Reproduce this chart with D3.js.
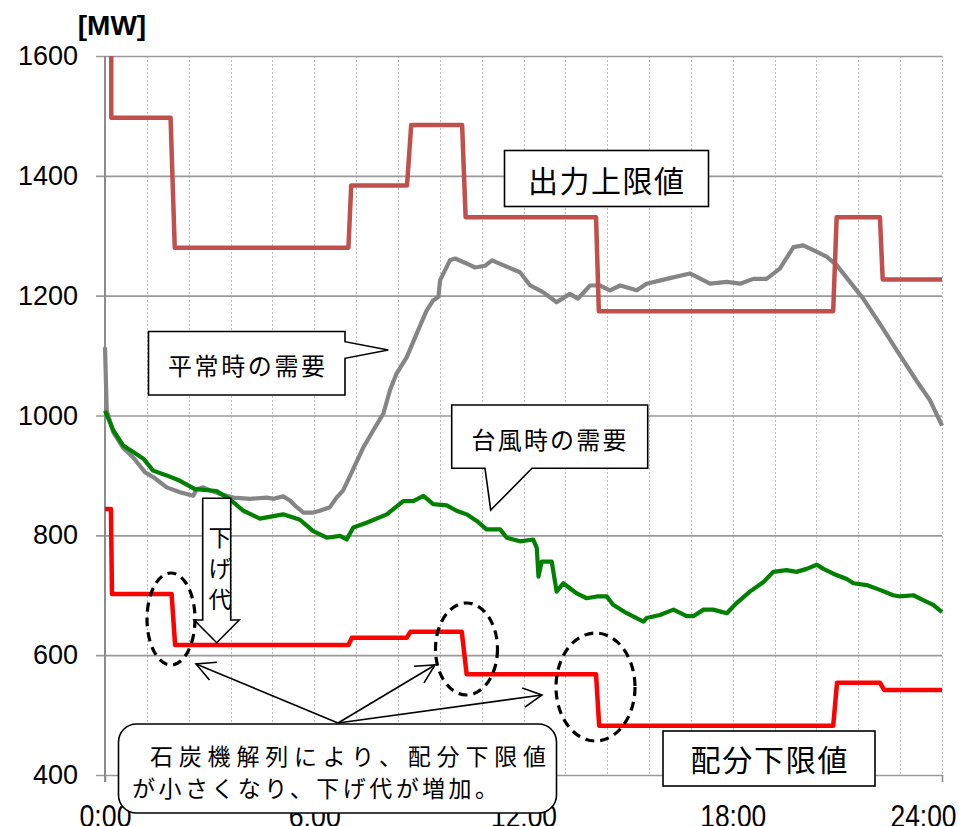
<!DOCTYPE html>
<html><head><meta charset="utf-8">
<script src="https://cdn.jsdelivr.net/npm/d3@7/dist/d3.min.js"></script>
<style>body{margin:0;background:#fff}svg{display:block}</style>
</head><body>
<svg id="c" width="961" height="826"></svg>
<script>
// ---- data ----
const hourTicks = [0, 6, 12, 18, 24];
const hourLabels = ["0:00", "6:00", "12:00", "18:00", "24:00"];
const mwTicks = [400, 600, 800, 1000, 1200, 1400, 1600];

// 出力上限値
const upperTime  = [0.18, 0.18, 1.88, 2.0, 6.98, 7.06, 8.66, 8.78, 10.24, 10.34, 14.08, 14.16, 20.88, 20.98, 22.22, 22.30, 24];
const upperValue = [1600, 1497, 1497, 1280, 1280, 1384, 1384, 1485, 1485, 1331, 1331, 1174, 1174, 1331, 1331, 1227, 1227];

// 配分下限値
const lowerTime  = [0, 0.17, 0.2, 1.91, 2.01, 6.98, 7.08, 8.65, 8.76, 10.23, 10.37, 14.08, 14.17, 20.88, 20.99, 22.22, 22.34, 24];
const lowerValue = [844, 844, 702, 702, 617, 617, 629, 629, 639, 639, 568, 568, 482, 482, 554, 554, 542, 542];

// 平常時の需要
const normalTime = [0, 0.05, 0.24, 0.52, 0.81, 1.15, 1.39, 1.77, 2.15, 2.53, 2.63, 2.82, 3.01, 3.30, 3.68, 4.16, 4.64, 4.83, 5.11, 5.30, 5.50, 5.69, 5.97, 6.16, 6.45, 6.64, 6.83, 7.12, 7.41, 7.69, 7.98, 8.17, 8.36, 8.65, 8.94, 9.22, 9.41, 9.56, 9.61, 9.89, 10.04, 10.32, 10.61, 10.90, 11.10, 11.33, 11.90, 12.19, 12.56, 12.95, 13.33, 13.56, 13.91, 14.19, 14.48, 14.77, 15.25, 15.53, 16.11, 16.77, 17.35, 17.83, 18.21, 18.59, 18.97, 19.35, 19.74, 20.02, 20.31, 20.69, 20.98, 21.36, 21.74, 22.22, 22.70, 23.27, 23.66, 24];
const normalValue = [1114, 1008, 972, 946, 930, 905, 897, 880, 872, 866, 877, 880, 875, 869, 863, 861, 863, 861, 865, 858, 847, 838, 838, 841, 847, 863, 875, 911, 947, 975, 1003, 1042, 1070, 1097, 1137, 1175, 1192, 1198, 1226, 1259, 1262, 1255, 1247, 1250, 1259, 1253, 1239, 1217, 1206, 1189, 1203, 1195, 1217, 1217, 1209, 1217, 1209, 1220, 1228, 1237, 1220, 1223, 1220, 1228, 1228, 1245, 1281, 1284, 1276, 1265, 1251, 1223, 1195, 1153, 1109, 1058, 1025, 983];

// 台風時の需要
const typhoonTime = [0, 0.24, 0.52, 0.81, 1.10, 1.38, 1.77, 2.15, 2.58, 3.20, 3.58, 3.97, 4.44, 4.83, 5.11, 5.59, 5.97, 6.36, 6.74, 6.93, 7.12, 7.50, 8.08, 8.55, 8.84, 9.13, 9.41, 9.80, 10.08, 10.37, 10.66, 10.94, 11.33, 11.52, 11.90, 12.28, 12.38, 12.43, 12.52, 12.81, 12.95, 13.14, 13.53, 13.81, 14.10, 14.39, 14.57, 14.96, 15.44, 15.53, 15.91, 16.30, 16.68, 16.87, 17.16, 17.44, 17.83, 18.11, 18.49, 18.88, 19.16, 19.54, 19.83, 20.12, 20.41, 20.60, 20.88, 21.27, 21.46, 21.84, 22.22, 22.60, 22.80, 23.18, 23.46, 23.75, 24];
const typhoonValue = [1008, 975, 950, 939, 928, 908, 900, 891, 877, 874, 860, 841, 828, 832, 835, 826, 807, 796, 799, 793, 813, 821, 835, 857, 857, 866, 852, 850, 841, 835, 824, 810, 810, 796, 790, 793, 779, 731, 756, 756, 706, 720, 703, 695, 698, 698, 684, 670, 656, 662, 667, 676, 665, 665, 676, 676, 670, 687, 706, 722, 739, 742, 739, 744, 751, 744, 736, 727, 720, 717, 709, 700, 698, 700, 692, 684, 672];

// ---- chart ----
const svg = d3.select("#c");
const L = 105, R = 942, T = 56, B = 775;
const x = d3.scaleLinear().domain([0, 24]).range([L, R]);
const y = d3.scaleLinear().domain([400, 1600]).range([B, T]);
const jp = "'Noto Sans CJK JP','Noto Sans CJK SC',sans-serif";
const num = "'Liberation Sans',Arial,sans-serif";

// vertical dotted grid
svg.append("g").selectAll("line").data(d3.range(1, 21).map(i => i * 1.2)).join("line")
  .attr("x1", d => Math.round(x(d)) + 0.5).attr("x2", d => Math.round(x(d)) + 0.5)
  .attr("y1", T).attr("y2", B)
  .attr("stroke", "#bdbdbd").attr("stroke-width", 1).attr("stroke-dasharray", "2,2");

// y axis with horizontal gridlines
const yAxis = svg.append("g").attr("transform", "translate(96,0)")
  .call(d3.axisLeft(y).tickValues(mwTicks).tickSize(-(R - 96)).tickPadding(18).tickFormat(d3.format("d")));
yAxis.select(".domain").remove();
yAxis.selectAll(".tick line").attr("stroke", "#9a9a9a").attr("stroke-width", 1.6);
yAxis.selectAll(".tick text").attr("font-family", num).attr("font-size", 27).attr("fill", "#000");

// left axis line
svg.append("line").attr("x1", L).attr("x2", L).attr("y1", T).attr("y2", B + 7)
  .attr("stroke", "#8c8c8c").attr("stroke-width", 2);

// x axis
const xAxis = svg.append("g").attr("transform", `translate(0,${B})`)
  .call(d3.axisBottom(x).tickValues(hourTicks).tickSize(7).tickPadding(24).tickFormat((d, i) => hourLabels[i]));
xAxis.select(".domain").remove();
xAxis.selectAll(".tick line").attr("stroke", "#8c8c8c").attr("stroke-width", 1.6);
xAxis.selectAll(".tick text").attr("font-family", num).attr("font-size", 31).attr("fill", "#000")
  .attr("y", 52).attr("dy", 0)
  .attr("textLength", (d, i) => hourLabels[i].length === 4 ? 52 : 66).attr("lengthAdjust", "spacingAndGlyphs")
  .attr("text-anchor", "middle")
  .attr("x", (d, i) => i === 4 ? -19 : 0);

// y unit
svg.append("text").attr("x", 112).attr("y", 35).attr("text-anchor", "middle")
  .attr("font-family", num).attr("font-weight", "bold").attr("font-size", 28).text("[MW]");

// clip
svg.append("clipPath").attr("id", "pc").append("rect")
  .attr("x", L - 3).attr("y", T).attr("width", R - L + 6).attr("height", B - T + 4);

const line = d3.line().x(d => x(d[0])).y(d => y(d[1]));
const g = svg.append("g").attr("clip-path", "url(#pc)");
g.append("path").datum(d3.zip(normalTime, normalValue)).attr("d", line)
  .attr("fill", "none").attr("stroke", "#858585").attr("stroke-width", 4.2).attr("stroke-linejoin", "round");
g.append("path").datum(d3.zip(typhoonTime, typhoonValue)).attr("d", line)
  .attr("fill", "none").attr("stroke", "#008000").attr("stroke-width", 4.2).attr("stroke-linejoin", "round");
g.append("path").datum(d3.zip(upperTime, upperValue)).attr("d", line)
  .attr("fill", "none").attr("stroke", "#C0504D").attr("stroke-width", 4.5).attr("stroke-linejoin", "round");
g.append("path").datum(d3.zip(lowerTime, lowerValue)).attr("d", line)
  .attr("fill", "none").attr("stroke", "#FF0000").attr("stroke-width", 4.5).attr("stroke-linejoin", "round");

// ---- annotations ----
const box = (x0, y0, x1, y1) => svg.append("rect").attr("x", x0).attr("y", y0)
  .attr("width", x1 - x0).attr("height", y1 - y0).attr("fill", "#fff").attr("stroke", "#000").attr("stroke-width", 1.6);
const label = (t, cx, cy, fs, len) => svg.append("text").attr("x", cx).attr("y", cy)
  .attr("text-anchor", "middle").attr("dominant-baseline", "central")
  .attr("font-family", jp).attr("font-size", fs).attr("fill", "#000")
  .attr("textLength", len).attr("lengthAdjust", "spacing").text(t);

box(504.5, 150.5, 708.5, 206.5);
label("出力上限値", 606, 179, 30, 156);

box(663, 731, 875, 786);
label("配分下限値", 769, 758, 30, 157);

// 平常時の需要 callout
svg.append("path").attr("d", "M148.5,331.5 H345 V341.7 L388.3,350 L345,358.3 V395 H148.5 Z")
  .attr("fill", "#fff").attr("stroke", "#000").attr("stroke-width", 1.6);
label("平常時の需要", 246.5, 364, 24, 157);

// 台風時の需要 callout
svg.append("path").attr("d", "M451.7,405 H647.7 V468.3 H532 L490.7,510 L485,468.3 H451.7 Z")
  .attr("fill", "#fff").attr("stroke", "#000").attr("stroke-width", 1.6);
label("台風時の需要", 549, 438, 24, 155);

// 下げ代 block arrow
svg.append("path").attr("d", "M202.7,498.3 H230.7 V620 H239.2 L216.7,642.7 L194.2,620 H202.7 Z")
  .attr("fill", "#fff").attr("stroke", "#000").attr("stroke-width", 1.6);
["下", "げ", "代"].forEach((c, i) => svg.append("text").attr("x", 220).attr("y", 536 + i * 31)
  .attr("text-anchor", "middle").attr("dominant-baseline", "central")
  .attr("font-family", jp).attr("font-size", 23).text(c));

// dashed ellipses
[[171, 619, 24, 46], [466.5, 649, 31, 46], [595.5, 687, 39.5, 54]].forEach(e =>
  svg.append("ellipse").attr("cx", e[0]).attr("cy", e[1]).attr("rx", e[2]).attr("ry", e[3])
    .attr("fill", "none").attr("stroke", "#000").attr("stroke-width", 3.2).attr("stroke-dasharray", "9,6"));

// arrows from note
const O = [338, 723];
[[196, 664], [435, 665], [542, 695]].forEach(t => {
  svg.append("line").attr("x1", O[0]).attr("y1", O[1]).attr("x2", t[0]).attr("y2", t[1])
    .attr("stroke", "#000").attr("stroke-width", 1.6);
  const a = Math.atan2(O[1] - t[1], O[0] - t[0]), th = 0.48, len = 21;
  svg.append("path").attr("d",
    `M${t[0] + len * Math.cos(a + th)},${t[1] + len * Math.sin(a + th)} L${t[0]},${t[1]} L${t[0] + len * Math.cos(a - th)},${t[1] + len * Math.sin(a - th)}`)
    .attr("fill", "none").attr("stroke", "#000").attr("stroke-width", 1.6);
});

// rounded note box
svg.append("rect").attr("x", 118.5).attr("y", 724).attr("width", 438).attr("height", 89).attr("rx", 18)
  .attr("fill", "#fff").attr("stroke", "#000").attr("stroke-width", 1.6);
svg.append("text").attr("x", 150).attr("y", 755).attr("dominant-baseline", "central")
  .attr("font-family", jp).attr("font-size", 23).attr("textLength", 396).attr("lengthAdjust", "spacing")
  .text("石炭機解列により、配分下限値");
svg.append("text").attr("x", 132).attr("y", 787).attr("dominant-baseline", "central")
  .attr("font-family", jp).attr("font-size", 23).attr("textLength", 366).attr("lengthAdjust", "spacing")
  .text("が小さくなり、下げ代が増加。");
</script>
</body></html>
